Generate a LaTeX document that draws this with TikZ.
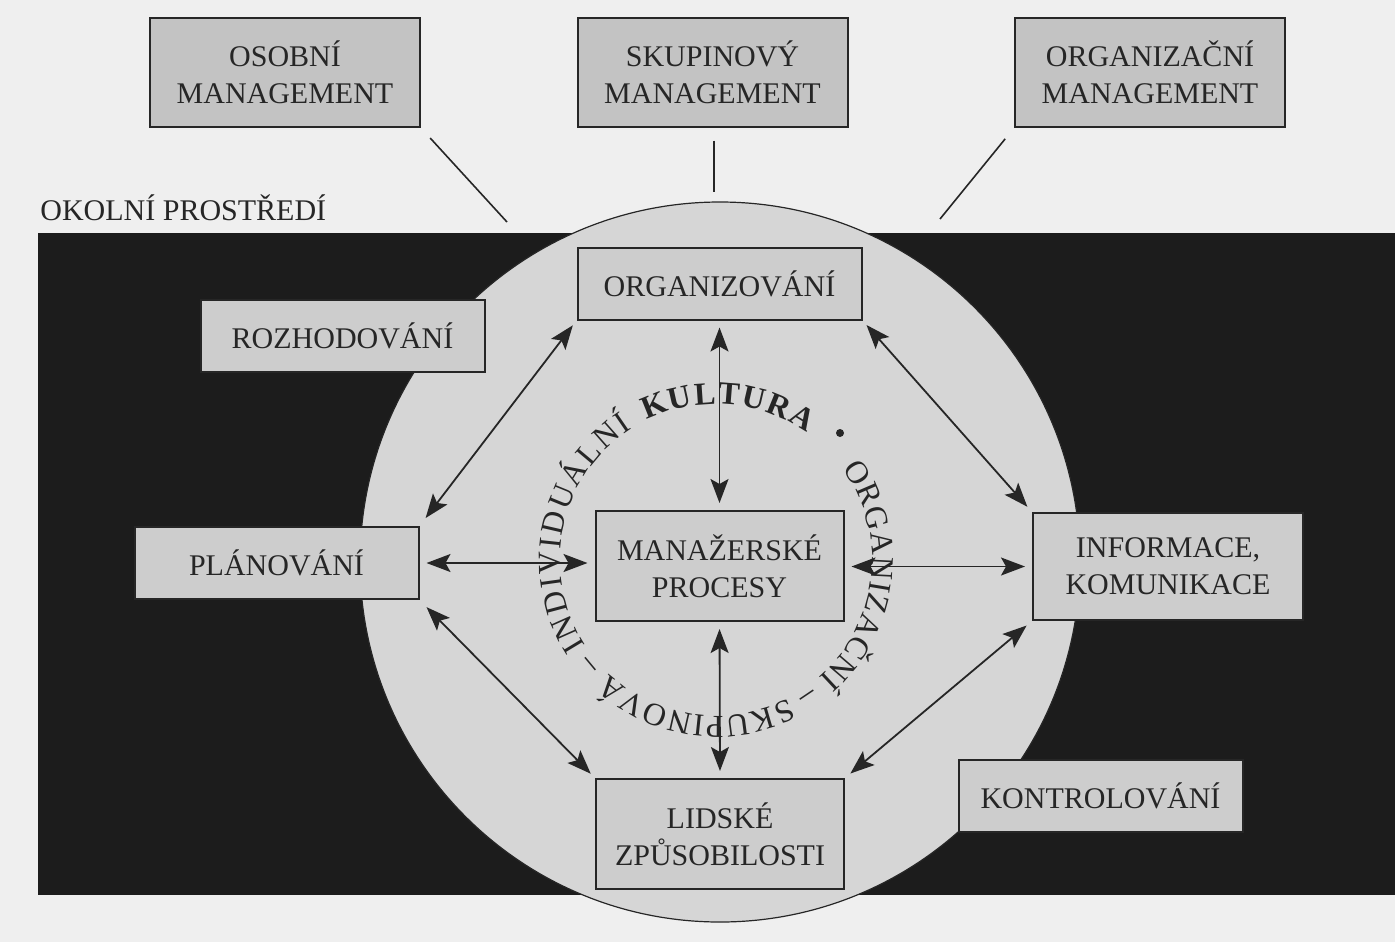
\documentclass[tikz,border=0pt]{standalone}
\usepackage{fontspec}
\setmainfont{Liberation Serif}
\usetikzlibrary{arrows.meta,decorations.text}
\definecolor{paper}{HTML}{EFEFEF}
\definecolor{envfill}{HTML}{1C1C1C}
\definecolor{circfill}{HTML}{D6D6D6}
\definecolor{boxfill}{HTML}{CDCDCD}
\definecolor{topfill}{HTML}{C3C3C3}
\definecolor{ink}{HTML}{262626}
\newcommand{\boxfont}{\fontsize{15}{18.5}\selectfont}
\newcommand{\ringfont}{\fontsize{16}{19}\selectfont}
\newcommand{\ringbold}{\fontsize{16}{19}\selectfont\bfseries}

\tikzset{
  box/.style={draw=ink, line width=1pt, fill=boxfill, text=ink, font=\boxfont, align=center, inner sep=0pt},
  mgmt/.style={box, fill=topfill, minimum width=135pt, minimum height=54.5pt},
  task/.style={box, minimum width=142pt, minimum height=36pt},
  core/.style={box, minimum width=124pt, minimum height=55pt},
  link/.style={{Stealth[length=12pt,width=9pt,inset=2.5pt]}-{Stealth[length=12pt,width=9pt,inset=2.5pt]}, line width=0.9pt, draw=ink, shorten <=3.5pt, shorten >=3.5pt},
  stem/.style={line width=0.8pt, draw=ink},
  ring/.style={decorate, decoration={text along path, text color=ink, text align={fit to path}, text={#1}}},
  ringc/.style={decorate, decoration={text along path, text color=ink, text align={center}, text={#1}}}
}

\begin{document}
\begin{tikzpicture}[x=0.5pt,y=0.5pt]
  \useasboundingbox (0,0) rectangle (1395,-942);
  \fill[paper] (0,0) rectangle (1395,-942);
  \fill[envfill] (38,-233) rectangle (1395,-895);
  \path
  (720,-562) coordinate (cc)
  (716,-560) coordinate (ctr)
  (507,-222) coordinate (osEnd)
  (714,-192) coordinate (skEnd)
  (940,-219) coordinate (orEnd)
  ;
  \draw[ink, line width=0.6pt, fill=circfill] (cc) circle[radius=360];

  \node[anchor=base west, font=\boxfont, text=ink, inner sep=0pt] (okolni) at (40,-220) {OKOLNÍ PROSTŘEDÍ};

  % top row
  \node[mgmt] (osobni) at (285,-72.5) {OSOBNÍ\\MANAGEMENT};
  \node[mgmt] (skup) at (712.5,-72) {SKUPINOVÝ\\MANAGEMENT};
  \node[mgmt] (orgman) at (1150,-72.5) {ORGANIZAČNÍ\\MANAGEMENT};
  \draw[stem, shorten <=6.8pt] (osobni.south east) -- (osEnd);
  \draw[stem, shorten <=6.5pt] (skup.south -| skEnd) -- (skEnd);
  \draw[stem, shorten <=7pt] (orgman.south west) -- (orEnd);

  % functions
  \node[task] (org) at (719.5,-283.5) {ORGANIZOVÁNÍ};
  \node[task] (rozh) at (342.5,-336) {ROZHODOVÁNÍ};
  \node[task] (plan) at (276.5,-563) {PLÁNOVÁNÍ};
  \node[core] (man) at (719.5,-566) {MANAŽERSKÉ\\PROCESY};
  \node[box, minimum width=135pt, minimum height=53.5pt] (info) at (1168,-566.5) {INFORMACE,\\KOMUNIKACE};
  \node[core] (lid) at (720,-834) {LIDSKÉ\\ZPŮSOBILOSTI};
  \node[task] (kontr) at (1100.5,-796) {KONTROLOVÁNÍ};

  \draw[link] (org.south) -- (man.north);
  \draw[link] (lid.north) -- (man.south);
  \draw[link] (plan.east) -- (plan.east -| man.west);
  \draw[link] (info.west) -- (info.west -| man.east);
  \draw[link, shorten <=5pt, shorten >=3pt] (plan.north east) -- (org.south west);
  \draw[link, shorten <=3pt] (org.south east) -- (info.north west);
  \draw[link, shorten <=5pt, shorten >=3pt] (plan.south east) -- (lid.north west);
  \draw[link] (info.south west) -- (lid.north east);

  % culture ring
  \path[ring={|\ringfont|INDIVIDUÁLNÍ}] (ctr) ++(213:156) arc[start angle=213, end angle=122.5, radius=156];
  \path[ring={|\ringbold|KULTURA}] (ctr) ++(116.5:156) arc[start angle=116.5, end angle=54.5, radius=156];
  \fill[ink] (840,-433) circle[radius=4];
  \path[ring={|\ringfont|ORGANIZAČNÍ}] (ctr) ++(36:156) arc[start angle=36, end angle=-49, radius=156];
  \path[ringc={|\ringfont|–}] (ctr) ++(-50:156) arc[start angle=-50, end angle=-62, radius=156];
  \path[ring={|\ringfont|SKUPINOVÁ}] (ctr) ++(-62.5:156) arc[start angle=-62.5, end angle=-133.5, radius=156];
  \path[ringc={|\ringfont|–}] (ctr) ++(226:156) arc[start angle=226, end angle=213.5, radius=156];
\end{tikzpicture}
\end{document}
